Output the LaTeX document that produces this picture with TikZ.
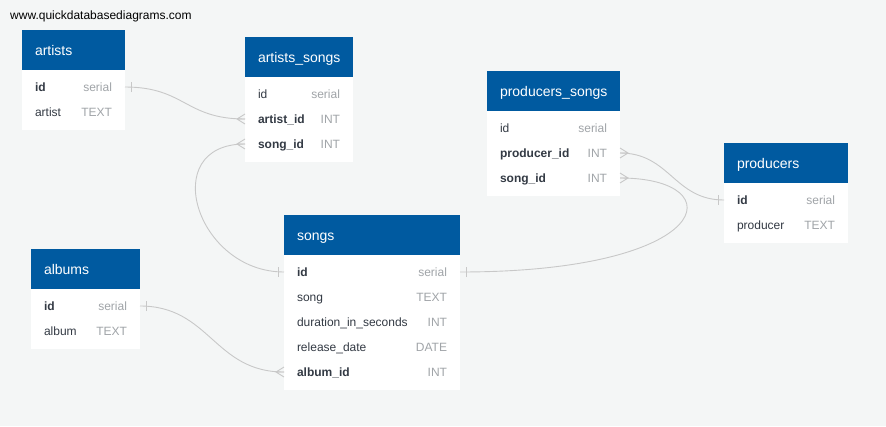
\documentclass[tikz,border=0pt]{standalone}
\usepackage{fontspec}
\setmainfont{Liberation Sans}
\usepackage{tikz}
\usetikzlibrary{positioning}
\definecolor{qdbblue}{RGB}{0,90,160}
\definecolor{canvas}{RGB}{244,246,246}
\definecolor{rowtext}{RGB}{51,58,68}
\definecolor{typegray}{RGB}{160,164,168}
\definecolor{linkgray}{RGB}{200,200,200}
\newcommand\coltype[1]{\textcolor{typegray}{#1}}

\tikzset{
  tblhead/.style={fill=qdbblue, text=white, anchor=north west, minimum height=40pt,
    inner xsep=13pt, inner ysep=0pt, outer sep=0pt, text height=12pt, text depth=1pt,
    font=\fontsize{14}{16}\selectfont},
  tblbody/.style={fill=white, minimum height=#1, inner sep=0pt, outer sep=0pt},
  tblrow/.style={minimum height=25pt, inner xsep=13pt, inner ysep=0pt, outer sep=0pt,
    text height=10pt, text depth=2pt, text=rowtext, font=\fontsize{12}{14}\selectfont},
  link/.style={draw=linkgray, line width=0.9pt},
  crowfoot/.pic={\draw[link] (0,0) -- (-8,0) (0,-5) -- (-8,0) -- (0,5);},
  onebar/.pic={\draw[link] (-6,-5) -- (-6,5);}
}

\begin{document}
\begin{tikzpicture}[x=1pt, y=-1pt]
      \fill[canvas] (0,0) rectangle (886,426);
      \useasboundingbox (0,0) rectangle (886,426);
      \node[anchor=west, inner sep=0pt, font=\fontsize{12}{14}\selectfont] (site) at (10,16) {www.quickdatabasediagrams.com};

      % artists
      \node[tblhead, text width=77pt] (artists) at (22,30) {artists};
      \node[tblbody=60pt, minimum width=103pt, below=0pt of artists] (artists-body) {};
      \node[tblrow, text width=77pt, below=4.5pt of artists] (artists-id) {\textbf{id}\hfill\coltype{serial}};
      \node[tblrow, text width=77pt, below=0pt of artists-id] (artists-artist) {artist\hfill\coltype{TEXT}};

      % artists_songs
      \node[tblhead, text width=82pt] (as) at (245,37) {artists\_songs};
      \node[tblbody=85pt, minimum width=108pt, below=0pt of as] (as-body) {};
      \node[tblrow, text width=82pt, below=4.5pt of as] (as-id) {id\hfill\coltype{serial}};
      \node[tblrow, text width=82pt, below=0pt of as-id] (as-artist) {\textbf{artist\_id}\hfill\coltype{INT}};
      \node[tblrow, text width=82pt, below=0pt of as-artist] (as-song) {\textbf{song\_id}\hfill\coltype{INT}};

      % producers_songs
      \node[tblhead, text width=107pt] (ps) at (487,71) {producers\_songs};
      \node[tblbody=85pt, minimum width=133pt, below=0pt of ps] (ps-body) {};
      \node[tblrow, text width=107pt, below=4.5pt of ps] (ps-id) {id\hfill\coltype{serial}};
      \node[tblrow, text width=107pt, below=0pt of ps-id] (ps-producer) {\textbf{producer\_id}\hfill\coltype{INT}};
      \node[tblrow, text width=107pt, below=0pt of ps-producer] (ps-song) {\textbf{song\_id}\hfill\coltype{INT}};

      % producers
      \node[tblhead, text width=98pt] (producers) at (724,143) {producers};
      \node[tblbody=60pt, minimum width=124pt, below=0pt of producers] (producers-body) {};
      \node[tblrow, text width=98pt, below=4.5pt of producers] (producers-id) {\textbf{id}\hfill\coltype{serial}};
      \node[tblrow, text width=98pt, below=0pt of producers-id] (producers-producer) {producer\hfill\coltype{TEXT}};

      % songs
      \node[tblhead, text width=150pt] (songs) at (284,215) {songs};
      \node[tblbody=135pt, minimum width=176pt, below=0pt of songs] (songs-body) {};
      \node[tblrow, text width=150pt, below=4.5pt of songs] (songs-id) {\textbf{id}\hfill\coltype{serial}};
      \node[tblrow, text width=150pt, below=0pt of songs-id] (songs-song) {song\hfill\coltype{TEXT}};
      \node[tblrow, text width=150pt, below=0pt of songs-song] (songs-duration) {duration\_in\_seconds\hfill\coltype{INT}};
      \node[tblrow, text width=150pt, below=0pt of songs-duration] (songs-release) {release\_date\hfill\coltype{DATE}};
      \node[tblrow, text width=150pt, below=0pt of songs-release] (songs-album) {\textbf{album\_id}\hfill\coltype{INT}};

      % albums
      \node[tblhead, text width=83pt] (albums) at (31,249) {albums};
      \node[tblbody=60pt, minimum width=109pt, below=0pt of albums] (albums-body) {};
      \node[tblrow, text width=83pt, below=4.5pt of albums] (albums-id) {\textbf{id}\hfill\coltype{serial}};
      \node[tblrow, text width=83pt, below=0pt of albums-id] (albums-album) {album\hfill\coltype{TEXT}};

      % relations
      \draw[link] (artists-id.east) .. controls +(60,0) and +(-60,0) .. (as-artist.west);
      \draw[link] (as-song.west) .. controls +(-88,0) and +(-88,0) .. (songs-id.west);
      \draw[link] (ps-producer.east) .. controls +(50,0) and +(-50,0) .. (producers-id.west);
      \draw[link] (ps-song.east) .. controls +(115,0) and +(255,0) .. (songs-id.east);
      \draw[link] (albums-id.east) .. controls +(70,0) and +(-70,0) .. (songs-album.west);

      \pic[rotate=180] at (artists-id.east) {onebar};
      \pic at (as-artist.west) {crowfoot};
      \pic at (as-song.west) {crowfoot};
      \pic at (songs-id.west) {onebar};
      \pic[rotate=180] at (ps-producer.east) {crowfoot};
      \pic at (producers-id.west) {onebar};
      \pic[rotate=180] at (ps-song.east) {crowfoot};
      \pic[rotate=180] at (songs-id.east) {onebar};
      \pic[rotate=180] at (albums-id.east) {onebar};
      \pic at (songs-album.west) {crowfoot};
\end{tikzpicture}
\end{document}
